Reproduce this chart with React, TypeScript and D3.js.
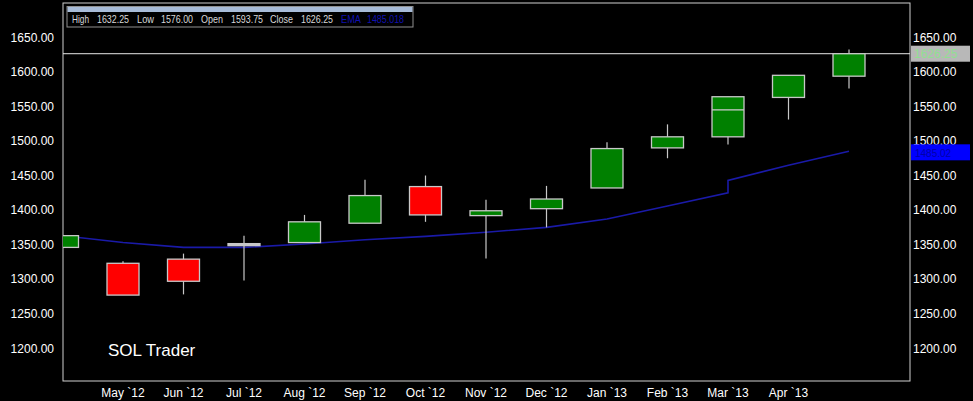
import React from "react";
import * as d3 from "d3";

const months = ["Apr `12", "May `12", "Jun `12", "Jul `12", "Aug `12", "Sep `12", "Oct `12", "Nov `12", "Dec `12", "Jan `13", "Feb `13", "Mar `13", "Apr `13", "May `13"];
const labeledMonths = [1, 2, 3, 4, 5, 6, 7, 8, 9, 10, 11, 12];
const opens = [1346, 1323, 1329, 1350, 1353, 1381, 1434, 1392, 1402, 1432, 1490, 1506, 1563, 1593.75];
const highs = [1363, 1326, 1337, 1363, 1393, 1444, 1450, 1415, 1435, 1498, 1524, 1564, 1595, 1632.25];
const lows = [1346, 1277, 1278, 1298, 1353, 1381, 1383, 1330, 1375, 1432, 1475, 1495, 1531, 1576];
const closes = [1363, 1277, 1297, 1350, 1383, 1421, 1393, 1399, 1416, 1489, 1506, 1564, 1595, 1626.25];
const innerLines = [{ idx: 11, value: 1545 }];
const emaIdx = [0, 1, 2, 3, 4, 5, 6, 7, 8, 9, 10, 11, 11, 12, 13];
const emaVal = [1363, 1353, 1346, 1346, 1351, 1357, 1362, 1368, 1375, 1387, 1406, 1425, 1443, 1465, 1485];
const yTicks = [1200, 1250, 1300, 1350, 1400, 1450, 1500, 1550, 1600, 1650];
const lastClose = 1626.25;
const lastEma = 1485.018;

const W = 973, H = 401;
const plot = { left: 63, right: 910, top: 3, bottom: 381 };

export default function App() {
  const y = d3.scaleLinear().domain([1200, 1650]).range([348.3, 37.3]);
  const x = d3.scaleLinear().domain([0, 13]).range([62.5, 849]);
  const bodyW = 32;
  const font = "'Liberation Sans', Arial, sans-serif";
  const line = d3.line<number>().x((_, i) => x(emaIdx[i])).y((v) => y(v));

  const titleParts = [
    { t: "High", x: 72, w: 17, c: "#d8d8d8" },
    { t: "1632.25", x: 97, w: 32, c: "#d8d8d8" },
    { t: "Low", x: 137, w: 17, c: "#d8d8d8" },
    { t: "1576.00", x: 161, w: 32, c: "#d8d8d8" },
    { t: "Open", x: 201, w: 22, c: "#d8d8d8" },
    { t: "1593.75", x: 231, w: 32, c: "#d8d8d8" },
    { t: "Close", x: 270, w: 23, c: "#d8d8d8" },
    { t: "1626.25", x: 301, w: 32, c: "#d8d8d8" },
    { t: "EMA", x: 341, w: 20, c: "#1010b0" },
    { t: lastEma.toFixed(3), x: 367, w: 37, c: "#1010b0" },
  ];

  return (
    <svg width={W} height={H} style={{ position: "absolute", left: 0, top: 0, background: "#000" }} fontFamily={font}>
      <rect x={0} y={0} width={W} height={H} fill="#000" />
      <defs>
        <clipPath id="plotclip">
          <rect x={plot.left} y={plot.top} width={plot.right - plot.left} height={plot.bottom - plot.top} />
        </clipPath>
      </defs>
      <rect x={plot.left} y={plot.top} width={plot.right - plot.left} height={plot.bottom - plot.top} fill="none" stroke="#d0d0d0" strokeWidth={1} />

      {yTicks.map((t) => (
        <g key={t}>
          <text x={54} y={y(t)} dy="0.35em" textAnchor="end" fontSize={12} fill="#fff">{t.toFixed(2)}</text>
          <text x={913} y={y(t)} dy="0.35em" textAnchor="start" fontSize={12} fill="#fff">{t.toFixed(2)}</text>
        </g>
      ))}

      {labeledMonths.map((i) => (
        <text key={i} x={x(i)} y={393} dy="0.35em" textAnchor="middle" fontSize={12} fill="#fff">{months[i]}</text>
      ))}

      <g clipPath="url(#plotclip)">
        <path d={line(emaVal) || ""} fill="none" stroke="#1a1aa8" strokeWidth={1.6} />
        <line x1={plot.left} x2={plot.right} y1={y(lastClose)} y2={y(lastClose)} stroke="#e8e8e8" strokeWidth={1} />
        {months.map((m, i) => {
          const o = opens[i], c = closes[i];
          const top = y(Math.max(o, c));
          const bot = y(Math.min(o, c));
          const h = Math.max(2, bot - top);
          const color = c > o ? "#008000" : c < o ? "#ff0000" : "#c8c8c8";
          return (
            <g key={m}>
              <line x1={x(i)} x2={x(i)} y1={y(highs[i])} y2={y(lows[i])} stroke="#c8c8c8" strokeWidth={1.2} />
              <rect x={x(i) - bodyW / 2} y={c === o ? top - 1 : top} width={bodyW} height={h} fill={color} stroke="#c8c8c8" strokeWidth={1.3} />
            </g>
          );
        })}
        {innerLines.map((l) => (
          <line key={l.idx} x1={x(l.idx) - bodyW / 2} x2={x(l.idx) + bodyW / 2} y1={y(l.value)} y2={y(l.value)} stroke="#c8c8c8" strokeWidth={1.3} />
        ))}
      </g>

      <rect x={911} y={y(lastClose) - 8} width={59} height={16} fill="#b8b8b8" />
      <text x={914} y={y(lastClose)} dy="0.35em" fontSize={12} fill="#90e090">{lastClose.toFixed(2)}</text>
      <rect x={911} y={y(lastEma) - 7} width={59} height={16} fill="#0000ff" />
      <text x={915} y={y(lastEma) + 2.5} dy="0.35em" fontSize={10} fill="#0000a8">{lastEma.toFixed(2)}</text>

      <rect x={67} y={6.5} width={346} height={20.5} fill="#000" stroke="#909090" strokeWidth={1} />
      <rect x={67.5} y={7} width={345} height={5} fill="#a8bcd8" />
      {titleParts.map((p, i) => (
        <text key={i} x={p.x} y={22.5} fontSize={11} fill={p.c} textLength={p.w} lengthAdjust="spacingAndGlyphs">{p.t}</text>
      ))}

      <text x={108} y={356} fontSize={17} fill="#fff">SOL Trader</text>
    </svg>
  );
}
